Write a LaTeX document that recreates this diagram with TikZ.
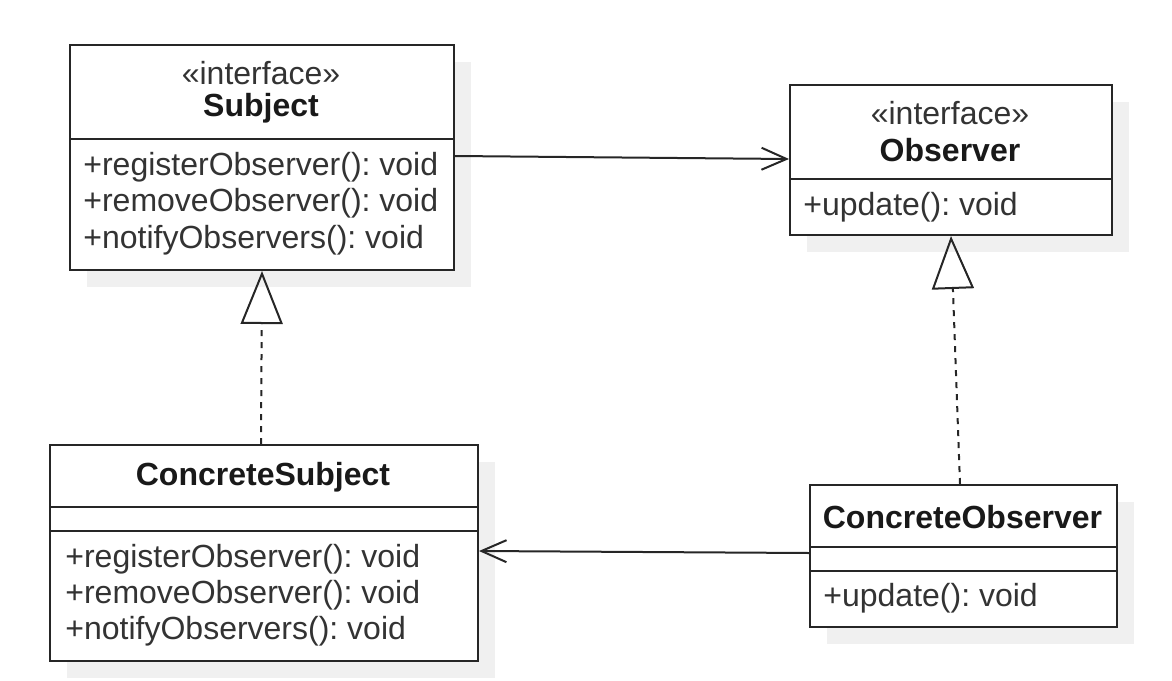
\documentclass[tikz,border=0pt]{standalone}
\usepackage{fontspec}
\setmainfont{Liberation Sans}
\usetikzlibrary{arrows.meta,calc,shadows}
\frenchspacing
\begin{document}
\begin{tikzpicture}[x=0.5pt,y=-0.5pt,
  umlbox/.style={draw=black!85, line width=1pt, fill=white, inner sep=0pt, anchor=north west,
    drop shadow={shadow xshift=8.5pt,shadow yshift=-8.5pt,fill=black!6,opacity=1}},
  divider/.style={draw=black!85, line width=1pt},
  clsname/.style={font=\fontsize{16}{19}\selectfont\bfseries\frenchspacing, inner sep=0pt, text=black!90},
  stereo/.style={font=\fontsize{16}{19}\selectfont\frenchspacing, inner sep=0pt, text=black!80},
  member/.style={font=\fontsize{16}{19}\selectfont\frenchspacing, inner sep=0pt, anchor=west, text=black!80},
  assoc/.style={draw=black!85, line width=1pt, -{Straight Barb[length=12.5pt,width=11pt]}},
  realize/.style={draw=black!85, line width=1pt, dash pattern=on 3pt off 3pt,
    -{Triangle[open,length=26.5pt,width=21pt]}}
]
\useasboundingbox (0,0) rectangle (1172,680);

% Boxes
\node[umlbox, minimum width=192pt, minimum height=112.5pt] (subj) at (69,44) {};
\node[umlbox, minimum width=161pt, minimum height=75pt] (obs) at (789,84) {};
\node[umlbox, minimum width=214pt, minimum height=108pt] (csub) at (49,444) {};
\node[umlbox, minimum width=153.5pt, minimum height=71pt] (cobs) at (809,484) {};

% Dividers
\draw[divider] ($(subj.north west)+(0,95)$) -- ($(subj.north east)+(0,95)$);
\draw[divider] ($(obs.north west)+(0,95)$) -- ($(obs.north east)+(0,95)$);
\draw[divider] ($(csub.north west)+(0,63)$) -- ($(csub.north east)+(0,63)$);
\draw[divider] ($(csub.north west)+(0,87)$) -- ($(csub.north east)+(0,87)$);
\draw[divider] ($(cobs.north west)+(0,63)$) -- ($(cobs.north east)+(0,63)$);
\draw[divider] ($(cobs.north west)+(0,87)$) -- ($(cobs.north east)+(0,87)$);

% Subject texts
\node[stereo] (subjst) at (261,73) {«interface»};
\node[clsname] (subjname) at (261,108) {Subject};
\node[member] (subjm1) at (83,167) {+registerObserver(): void};
\node[member] (subjm2) at (83,203) {+removeObserver(): void};
\node[member] (subjm3) at (83,240) {+notifyObservers(): void};

% Observer texts
\node[stereo] (obsst) at (950,113) {«interface»};
\node[clsname] (obsname) at (950,150) {Observer};
\node[member] (obsm1) at (803,207) {+update(): void};

% ConcreteSubject texts
\node[clsname] (csubname) at (263,477) {ConcreteSubject};
\node[member] (csubm1) at (65,559) {+registerObserver(): void};
\node[member] (csubm2) at (65,595) {+removeObserver(): void};
\node[member] (csubm3) at (65,631) {+notifyObservers(): void};

% ConcreteObserver texts
\node[clsname] (cobsname) at (962.5,517) {ConcreteObserver};
\node[member] (cobsm1) at (823,598) {+update(): void};

% Connectors
\draw[assoc] ($(subj.north east)+(0,112)$) -- ($(obs.north west)+(0,75)$);
\draw[assoc] ($(cobs.north west)+(0,69)$) -- ($(csub.north east)+(0,107)$);
\draw[realize] ($(csub.north west)+(212,0)$) -- (subj.south);
\draw[realize] ($(cobs.north west)+(151,0)$) -- (obs.south);
\end{tikzpicture}
\end{document}
